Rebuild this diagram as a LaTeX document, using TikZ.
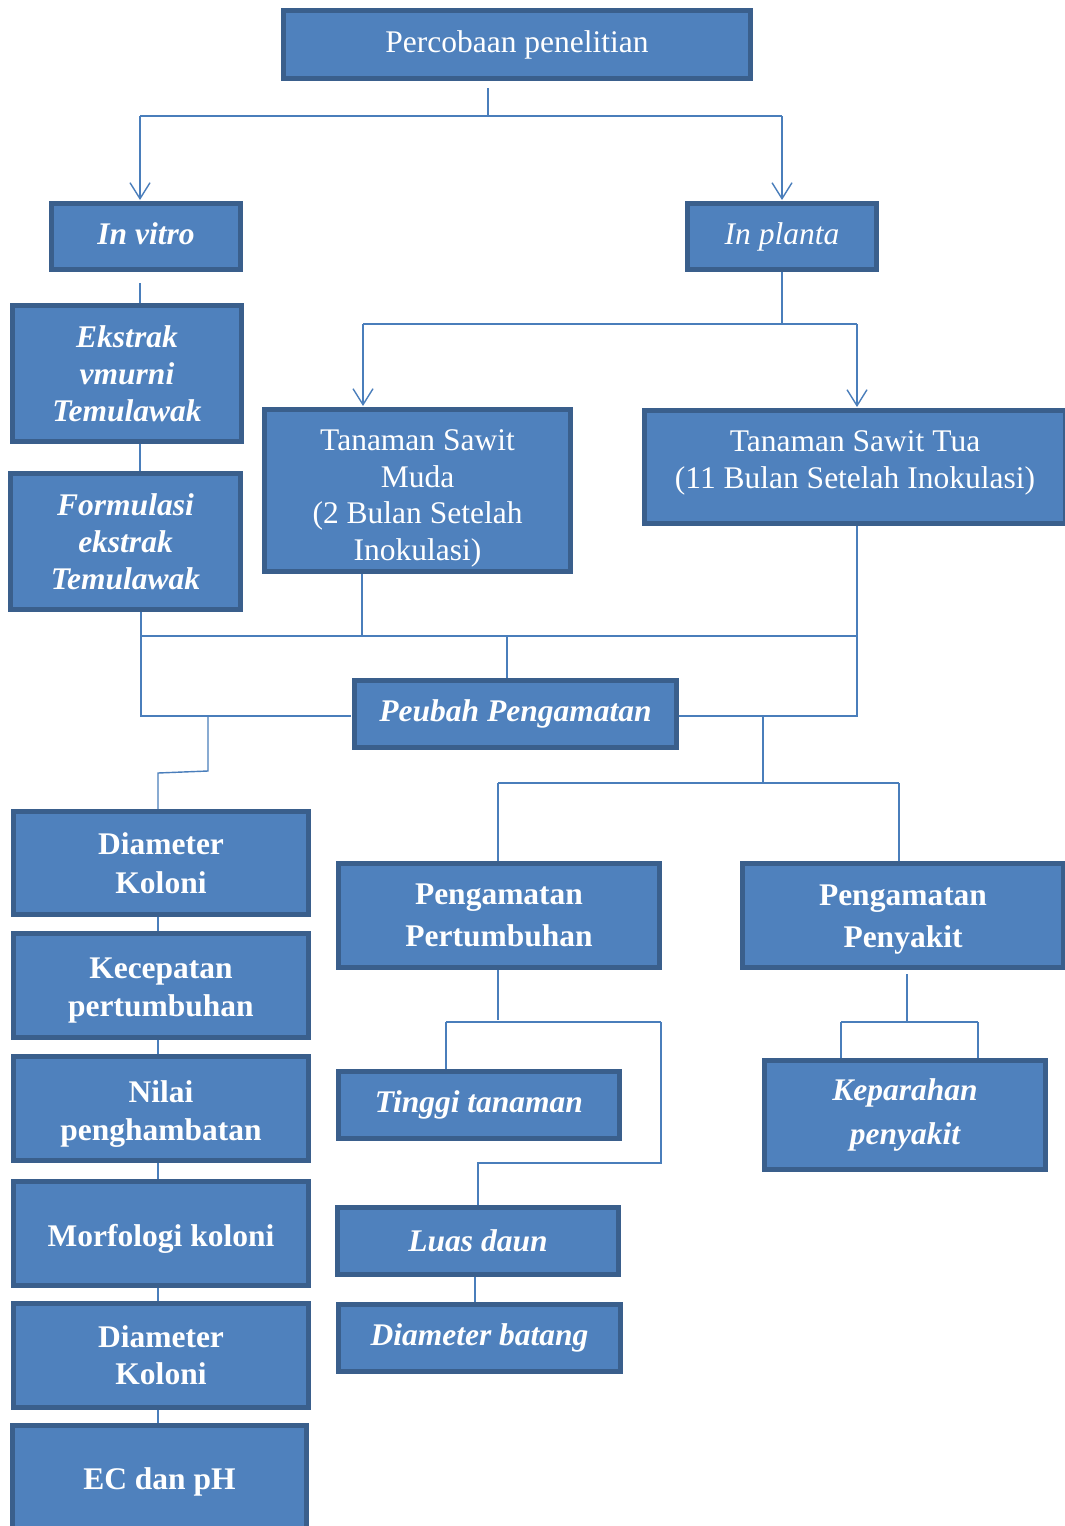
\documentclass[tikz,border=0pt]{standalone}
\usepackage{fontspec}
\setmainfont{Liberation Serif}
\usetikzlibrary{arrows.meta}
\definecolor{boxfill}{HTML}{4F81BD}
\definecolor{boxborder}{HTML}{3A5F8C}
\definecolor{linecol}{HTML}{4A7EBB}
\tikzset{
  box/.style={draw=boxborder, line width=5pt, fill=boxfill, inner sep=0pt,
    text=white, align=center, font=\fontsize{31.5}{37.5}\selectfont},
  txt/.style={inner sep=0pt, text=white, align=center, font=\fontsize{31.5}{37.5}\selectfont},
  conn/.style={draw=linecol, line width=1.4pt},
  arr/.style={conn, -{Straight Barb[length=16pt,width=20pt,line width=1.4pt]}},
  wh/.style 2 args={minimum width=#1pt, minimum height=#2pt}
}
\begin{document}
\begin{tikzpicture}[x=1pt,y=-1pt]
\useasboundingbox[fill=white] (0,0) rectangle (1065,1526);

% ---- boxes ----
\node[box, wh={467}{68}] (top) at (517,44.5) {Percobaan penelitian};
\node[box, wh={189}{66}] (vitro) at (146,236.5) {};
\node[txt, font=\fontsize{31.5}{37.5}\selectfont\bfseries\itshape] (vitroT) at (146,233.5) {In vitro};
\node[box, wh={189}{66}] (planta) at (782,236.5) {\textit{In planta}};
\node[box, wh={229}{136}, font=\fontsize{31.5}{37}\selectfont\bfseries\itshape] (ekstrak) at (127,373.5) {Ekstrak\\vmurni\\Temulawak};
\node[box, wh={230}{136}, font=\fontsize{31.5}{37}\selectfont\bfseries\itshape] (formulasi) at (125.5,541.5) {Formulasi\\ekstrak\\Temulawak};
\node[box, wh={306}{162}] (muda) at (417.5,490.5) {};
\node[txt, font=\fontsize{31.5}{36.5}\selectfont] (mudaT) at (417.5,498.5) {Tanaman Sawit\\Muda\\(2 Bulan Setelah\\Inokulasi)};
\node[box, wh={421}{113}] (tua) at (855,467) {};
\node[txt] (tuaT) at (855,463) {Tanaman Sawit Tua\\(11 Bulan Setelah Inokulasi)};
\node[box, wh={322}{67}, font=\fontsize{31.5}{37.5}\selectfont\bfseries\itshape] (peubah) at (515.5,714) {Peubah Pengamatan};

\node[box, wh={295}{103}, font=\fontsize{31.5}{39}\selectfont\bfseries] (dk1) at (161,863) {Diameter\\Koloni};
\node[box, wh={295}{104}] (kec) at (161,985.5) {};
\node[txt, font=\fontsize{31.5}{38}\selectfont\bfseries] (kecT) at (161,991) {Kecepatan\\pertumbuhan};
\node[box, wh={295}{104}] (nilai) at (161,1108.5) {};
\node[txt, font=\fontsize{31.5}{38}\selectfont\bfseries] (nilaiT) at (161,1114.5) {Nilai\\penghambatan};
\node[box, wh={295}{104}] (morf) at (161,1233.5) {};
\node[txt, font=\fontsize{31.5}{38}\selectfont\bfseries] (morfT) at (161,1238.5) {Morfologi koloni};
\node[box, wh={295}{104}, font=\fontsize{31.5}{37}\selectfont\bfseries] (dk2) at (161,1355.5) {Diameter\\Koloni};
\node[box, wh={294}{105}] (ec) at (159.5,1478) {};
\node[txt, font=\fontsize{31.5}{37}\selectfont\bfseries] (ecT) at (159.5,1482) {EC dan pH};

\node[box, wh={321}{104}, font=\fontsize{31.5}{42}\selectfont\bfseries] (pert) at (499,915.5) {Pengamatan\\Pertumbuhan};
\node[box, wh={321}{104}] (peny) at (903,915.5) {};
\node[txt, font=\fontsize{31.5}{42}\selectfont\bfseries] (penyT) at (903,919.5) {Pengamatan\\Penyakit};
\node[box, wh={281}{67}, font=\fontsize{31.5}{37}\selectfont\bfseries\itshape] (tinggi) at (479,1105) {Tinggi tanaman};
\node[box, wh={281}{109}, font=\fontsize{31.5}{44}\selectfont\bfseries\itshape] (kep) at (905,1115) {Keparahan\\penyakit};
\node[box, wh={281}{67}, font=\fontsize{31.5}{37}\selectfont\bfseries\itshape] (luas) at (478,1241) {Luas daun};
\node[box, wh={282}{67}, font=\fontsize{31.5}{37}\selectfont\bfseries\itshape] (batang) at (479.5,1338) {Diameter batang};

% ---- junction coordinates ----
\coordinate (t0) at (488,88);
\coordinate (t1) at (488,116);
\coordinate (tL) at (140,116);
\coordinate (tR) at (782,116);
\coordinate (tLe) at (140,200);
\coordinate (tRe) at (782,200);

\coordinate (v0) at (140,283);
\coordinate (v1) at (140,303);
\coordinate (e0) at (140,444);
\coordinate (e1) at (140,471);

\coordinate (p0) at (782,272);
\coordinate (p1) at (782,324);
\coordinate (pL) at (363,324);
\coordinate (pR) at (857,324);
\coordinate (pLe) at (363,406);
\coordinate (pRe) at (857,407);

\coordinate (f0) at (141,612);
\coordinate (hL) at (141,636);
\coordinate (hM) at (362,636);
\coordinate (m0) at (362,574);
\coordinate (hR) at (857,636);
\coordinate (u0) at (857,526);
\coordinate (hC) at (507,636);
\coordinate (hCe) at (507,678);
\coordinate (bL) at (141,716);
\coordinate (bLe) at (351,716);
\coordinate (bR) at (857,716);
\coordinate (bRs) at (679,716);

\coordinate (s0) at (208,716);
\coordinate (s1) at (208,771);
\coordinate (s2) at (158,773);
\coordinate (s3) at (158,809);

\coordinate (r0) at (763,716);
\coordinate (r1) at (763,783);
\coordinate (rL) at (498,783);
\coordinate (rR) at (899,783);
\coordinate (rLe) at (498,861);
\coordinate (rRe) at (899,861);

\coordinate (g0) at (498,970);
\coordinate (g1) at (498,1020);
\coordinate (gL) at (446,1022);
\coordinate (gR) at (661,1022);
\coordinate (gLe) at (446,1069);
\coordinate (gR2) at (661,1163);
\coordinate (gR3) at (478,1163);
\coordinate (gR4) at (478,1205);

\coordinate (k0) at (907,974);
\coordinate (k1) at (907,1022);
\coordinate (kL) at (841,1022);
\coordinate (kR) at (978,1022);
\coordinate (kLe) at (841,1058);
\coordinate (kRe) at (978,1058);

\coordinate (l0) at (475,1277);
\coordinate (l1) at (475,1302);

% ---- connectors ----
\draw[conn] (t0) -- (t1);
\draw[conn] (tL) -- (tR);
\draw[arr] (tL) -- (tLe);
\draw[arr] (tR) -- (tRe);

\draw[conn] (v0) -- (v1);
\draw[conn] (e0) -- (e1);

\draw[conn] (p0) -- (p1);
\draw[conn] (pL) -- (pR);
\draw[arr] (pL) -- (pLe);
\draw[arr] (pR) -- (pRe);

\draw[conn] (f0) -- (bL) -- (bLe);
\draw[conn] (hL) -- (hR);
\draw[conn] (m0) -- (hM);
\draw[conn] (u0) -- (bR) -- (bRs);
\draw[conn] (hC) -- (hCe);

\draw[conn] (s0) -- (s1) -- (s2) -- (s3);

\draw[conn] (r0) -- (r1);
\draw[conn] (rL) -- (rR);
\draw[conn] (rL) -- (rLe);
\draw[conn] (rR) -- (rRe);

\draw[conn] (dk1.south -| s3) -- (kec.north -| s3);
\draw[conn] (kec.south -| s3) -- (nilai.north -| s3);
\draw[conn] (nilai.south -| s3) -- (morf.north -| s3);
\draw[conn] (morf.south -| s3) -- (dk2.north -| s3);
\draw[conn] (dk2.south -| s3) -- (ec.north -| s3);

\draw[conn] (g0) -- (g1);
\draw[conn] (gL) -- (gR);
\draw[conn] (gL) -- (gLe);
\draw[conn] (gR) -- (gR2) -- (gR3) -- (gR4);

\draw[conn] (k0) -- (k1);
\draw[conn] (kL) -- (kR);
\draw[conn] (kL) -- (kLe);
\draw[conn] (kR) -- (kRe);

\draw[conn] (l0) -- (l1);
\end{tikzpicture}
\end{document}
